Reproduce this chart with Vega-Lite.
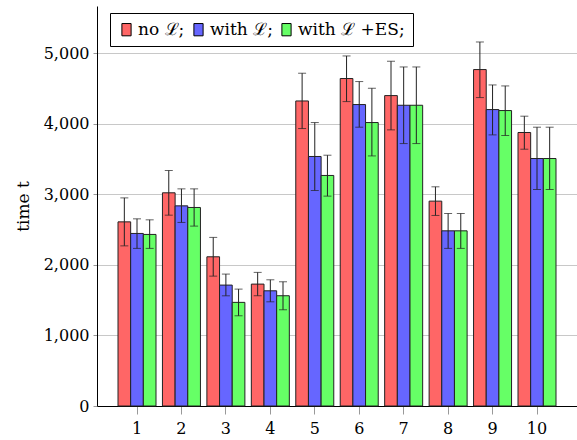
{
  "$schema": "https://vega.github.io/schema/vega-lite/v6.json",
  "width": 480,
  "height": 400,
  "autosize": "none",
  "padding": {"left": 97, "top": 6, "right": 0, "bottom": 34},
  "background": "white",
  "config": {
    "font": "DejaVu Serif",
    "view": {"stroke": null},
    "axis": {"labelFont": "DejaVu Serif", "titleFont": "DejaVu Serif"},
    "legend": {"labelFont": "DejaVu Serif", "titleFont": "DejaVu Serif"}
  },
  "data": {
    "values": [
      {"cat": 1, "series": "no ℒ;", "value": 2610, "lo": 2270, "hi": 2950},
      {"cat": 1, "series": "with ℒ;", "value": 2446, "lo": 2234, "hi": 2653},
      {"cat": 1, "series": "with ℒ +ES;", "value": 2432, "lo": 2234, "hi": 2639},
      {"cat": 2, "series": "no ℒ;", "value": 3022, "lo": 2705, "hi": 3338},
      {"cat": 2, "series": "with ℒ;", "value": 2837, "lo": 2602, "hi": 3078},
      {"cat": 2, "series": "with ℒ +ES;", "value": 2814, "lo": 2550, "hi": 3078},
      {"cat": 3, "series": "no ℒ;", "value": 2115, "lo": 1841, "hi": 2390},
      {"cat": 3, "series": "with ℒ;", "value": 1714, "lo": 1562, "hi": 1870},
      {"cat": 3, "series": "with ℒ +ES;", "value": 1469, "lo": 1279, "hi": 1657},
      {"cat": 4, "series": "no ℒ;", "value": 1728, "lo": 1563, "hi": 1894},
      {"cat": 4, "series": "with ℒ;", "value": 1633, "lo": 1477, "hi": 1789},
      {"cat": 4, "series": "with ℒ +ES;", "value": 1563, "lo": 1364, "hi": 1761},
      {"cat": 5, "series": "no ℒ;", "value": 4324, "lo": 3933, "hi": 4717},
      {"cat": 5, "series": "with ℒ;", "value": 3537, "lo": 3055, "hi": 4018},
      {"cat": 5, "series": "with ℒ +ES;", "value": 3268, "lo": 2975, "hi": 3555},
      {"cat": 6, "series": "no ℒ;", "value": 4642, "lo": 4315, "hi": 4962},
      {"cat": 6, "series": "with ℒ;", "value": 4273, "lo": 3952, "hi": 4599},
      {"cat": 6, "series": "with ℒ +ES;", "value": 4018, "lo": 3545, "hi": 4504},
      {"cat": 7, "series": "no ℒ;", "value": 4400, "lo": 3914, "hi": 4887},
      {"cat": 7, "series": "with ℒ;", "value": 4263, "lo": 3720, "hi": 4806},
      {"cat": 7, "series": "with ℒ +ES;", "value": 4263, "lo": 3720, "hi": 4806},
      {"cat": 8, "series": "no ℒ;", "value": 2904, "lo": 2701, "hi": 3107},
      {"cat": 8, "series": "with ℒ;", "value": 2483, "lo": 2234, "hi": 2729},
      {"cat": 8, "series": "with ℒ +ES;", "value": 2483, "lo": 2234, "hi": 2729},
      {"cat": 9, "series": "no ℒ;", "value": 4769, "lo": 4372, "hi": 5160},
      {"cat": 9, "series": "with ℒ;", "value": 4202, "lo": 3843, "hi": 4551},
      {"cat": 9, "series": "with ℒ +ES;", "value": 4188, "lo": 3834, "hi": 4537},
      {"cat": 10, "series": "no ℒ;", "value": 3877, "lo": 3640, "hi": 4108},
      {"cat": 10, "series": "with ℒ;", "value": 3508, "lo": 3069, "hi": 3952},
      {"cat": 10, "series": "with ℒ +ES;", "value": 3508, "lo": 3069, "hi": 3952}
    ]
  },
  "encoding": {
    "x": {
      "field": "cat",
      "type": "ordinal",
      "scale": {"paddingInner": 0.145, "paddingOuter": 0.4725},
      "axis": {
        "title": null,
        "labelAngle": 0,
        "labelFont": "DejaVu Serif",
        "labelFontSize": 16,
        "labelColor": "black",
        "labelPadding": 6,
        "tickSize": 8,
        "tickColor": "#999999",
        "domainColor": "black",
        "domainWidth": 1,
        "grid": false
      }
    },
    "xOffset": {
      "field": "series",
      "type": "nominal",
      "sort": ["no ℒ;", "with ℒ;", "with ℒ +ES;"],
      "scale": {"paddingInner": 0, "paddingOuter": 0}
    }
  },
  "layer": [
    {
      "mark": {"type": "bar", "stroke": "#222222", "strokeWidth": 1},
      "encoding": {
        "y": {
          "field": "value",
          "type": "quantitative",
          "scale": {"domain": [0, 5670], "nice": false, "zero": true},
          "axis": {
            "title": "time t",
            "titleFont": "DejaVu Serif",
            "titleFontSize": 17,
            "titleFontWeight": "normal",
            "titleColor": "black",
            "titleX": -74,
            "titleY": 200,
            "titleAngle": 270,
            "titleAlign": "center",
            "titleBaseline": "middle",
            "values": [0, 1000, 2000, 3000, 4000, 5000],
            "format": ",d",
            "labelFont": "DejaVu Serif",
            "labelFontSize": 16,
            "labelColor": "black",
            "labelPadding": 4,
            "tickSize": 4,
            "tickColor": "#999999",
            "domainColor": "black",
            "domainWidth": 1,
            "grid": true,
            "gridColor": "#c8c8c8",
            "gridWidth": 1
          }
        },
        "color": {
          "field": "series",
          "type": "nominal",
          "sort": ["no ℒ;", "with ℒ;", "with ℒ +ES;"],
          "scale": {
            "domain": ["no ℒ;", "with ℒ;", "with ℒ +ES;"],
            "range": ["#ff6666", "#6666ff", "#66ff66"]
          },
          "legend": {
            "title": null,
            "orient": "none",
            "legendX": 13,
            "legendY": 7,
            "direction": "horizontal",
            "symbolType": "M-0.75,-1H0.75V1H-0.75Z",
            "symbolSize": 151,
            "symbolStrokeColor": "black",
            "symbolStrokeWidth": 1,
            "symbolOpacity": 1,
            "labelFont": "DejaVu Serif",
            "labelFontSize": 17,
            "labelColor": "black",
            "labelOffset": 3,
            "columnPadding": 5,
            "strokeColor": "black",
            "fillColor": "white",
            "padding": 8
          }
        }
      }
    },
    {
      "mark": {"type": "rule", "color": "#222222", "strokeWidth": 1},
      "encoding": {
        "y": {"field": "lo", "type": "quantitative"},
        "y2": {"field": "hi"}
      }
    },
    {
      "mark": {"type": "tick", "color": "#222222", "size": 8, "thickness": 1},
      "encoding": {
        "y": {"field": "lo", "type": "quantitative"}
      }
    },
    {
      "mark": {"type": "tick", "color": "#222222", "size": 8, "thickness": 1},
      "encoding": {
        "y": {"field": "hi", "type": "quantitative"}
      }
    }
  ]
}
